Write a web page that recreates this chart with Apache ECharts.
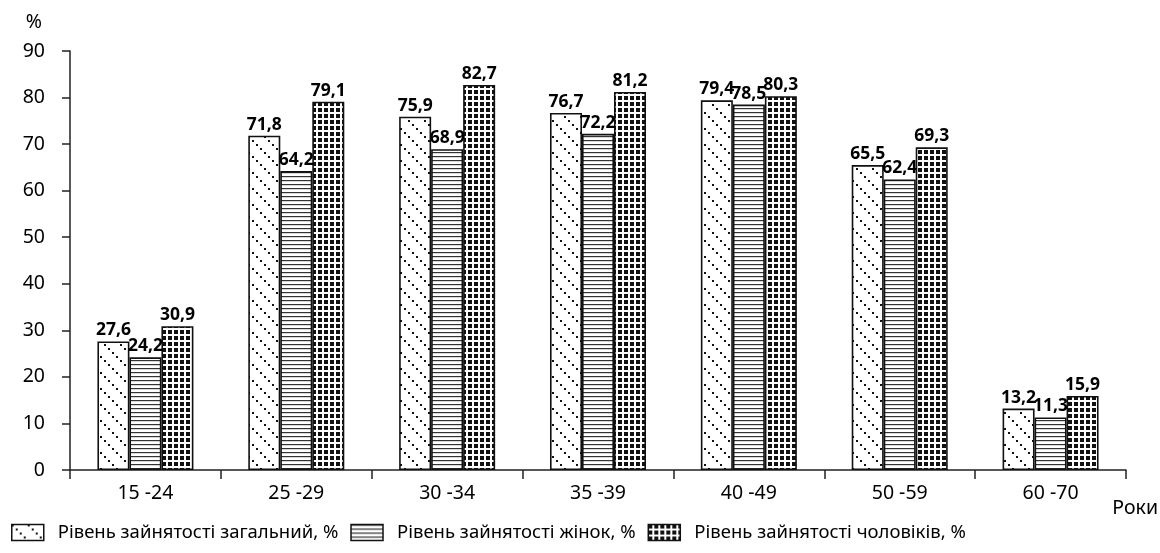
<!DOCTYPE html>
<html><head><meta charset="utf-8">
<script src="https://cdn.jsdelivr.net/npm/echarts@6/dist/echarts.min.js"></script>
<style>html,body{margin:0;padding:0;background:#fff}#c{width:1160px;height:553px}</style>
</head><body><div id="c"></div>
<script>
const categories = ['15 -24','25 -29','30 -34','35 -39','40 -49','50 -59','60 -70'];
const seriesNames = ['Рівень зайнятості загальний, %','Рівень зайнятості жінок, %','Рівень зайнятості чоловіків, %'];
const totalRate = [27.6, 71.8, 75.9, 76.7, 79.4, 65.5, 13.2];
const womenRate = [24.2, 64.2, 68.9, 72.2, 78.5, 62.4, 11.3];
const menRate   = [30.9, 79.1, 82.7, 81.2, 80.3, 69.3, 15.9];
const yTicks = [0,10,20,30,40,50,60,70,80,90];

function mk(w,h,draw){const c=document.createElement('canvas');c.width=w;c.height=h;const g=c.getContext('2d');g.fillStyle='#fff';g.fillRect(0,0,w,h);draw(g);return {image:c,repeat:'repeat'};}
const patDots = mk(16,16,g=>{g.fillStyle='#111';for(let i=0;i<16;i+=4){g.fillRect(i,i,2,2);}});
const patLines = mk(4,4,g=>{g.fillStyle='#333';g.fillRect(0,0,4,1.2);});
const patGrid = mk(6,6,g=>{g.fillStyle='#111';g.fillRect(0,0,4,4);});

const FONT = '"Noto Sans", "Open Sans", sans-serif';
const lab = {show:true,position:'top',distance:2,color:'#000',fontWeight:'bold',fontSize:17.5,fontFamily:FONT,
  formatter:p=>String(p.value).replace('.',',')};
function ser(name,data,pat){return {name,type:'bar',data,barWidth:32,barGap:'0%',
  itemStyle:{color:pat,borderColor:'#111',borderWidth:1.6},label:lab,emphasis:{disabled:true}};}

const chart = echarts.init(document.getElementById('c'));
chart.setOption({
  animation:false,
  textStyle:{fontFamily:FONT},
  grid:{left:70,right:34,top:51,bottom:83},
  legend:{left:6,bottom:6,itemWidth:32,itemHeight:16,itemGap:12,icon:'rect',
    textStyle:{fontSize:18.5,color:'#000',fontFamily:FONT,padding:[0,0,0,9]},
    itemStyle:{borderColor:'#111',borderWidth:1.5},
    data:seriesNames},
  xAxis:{type:'category',data:categories,
    axisLine:{lineStyle:{color:'#222',width:1.5}},
    axisTick:{show:true,length:9,lineStyle:{color:'#222',width:1.5},alignWithLabel:false},
    axisLabel:{color:'#000',fontSize:19.5,margin:13,fontFamily:FONT}},
  yAxis:{type:'value',min:0,max:90,interval:10,
    name:'%',nameLocation:'end',nameGap:19,nameTextStyle:{color:'#000',fontSize:19.5,align:'right',padding:[0,28,0,0]},
    axisLine:{show:true,lineStyle:{color:'#222',width:1.5}},
    axisTick:{show:true,length:8,lineStyle:{color:'#222',width:1.5}},
    splitLine:{show:false},
    axisLabel:{color:'#000',fontSize:19.5,margin:25,fontFamily:FONT,formatter:v=>yTicks.includes(v)?String(v):''}},
  graphic:[{type:'text',right:2,top:498,style:{text:'Роки',fill:'#000',font:'19.5px '+FONT}}],
  series:[ser(seriesNames[0],totalRate,patDots),ser(seriesNames[1],womenRate,patLines),ser(seriesNames[2],menRate,patGrid)]
});
</script></body></html>
